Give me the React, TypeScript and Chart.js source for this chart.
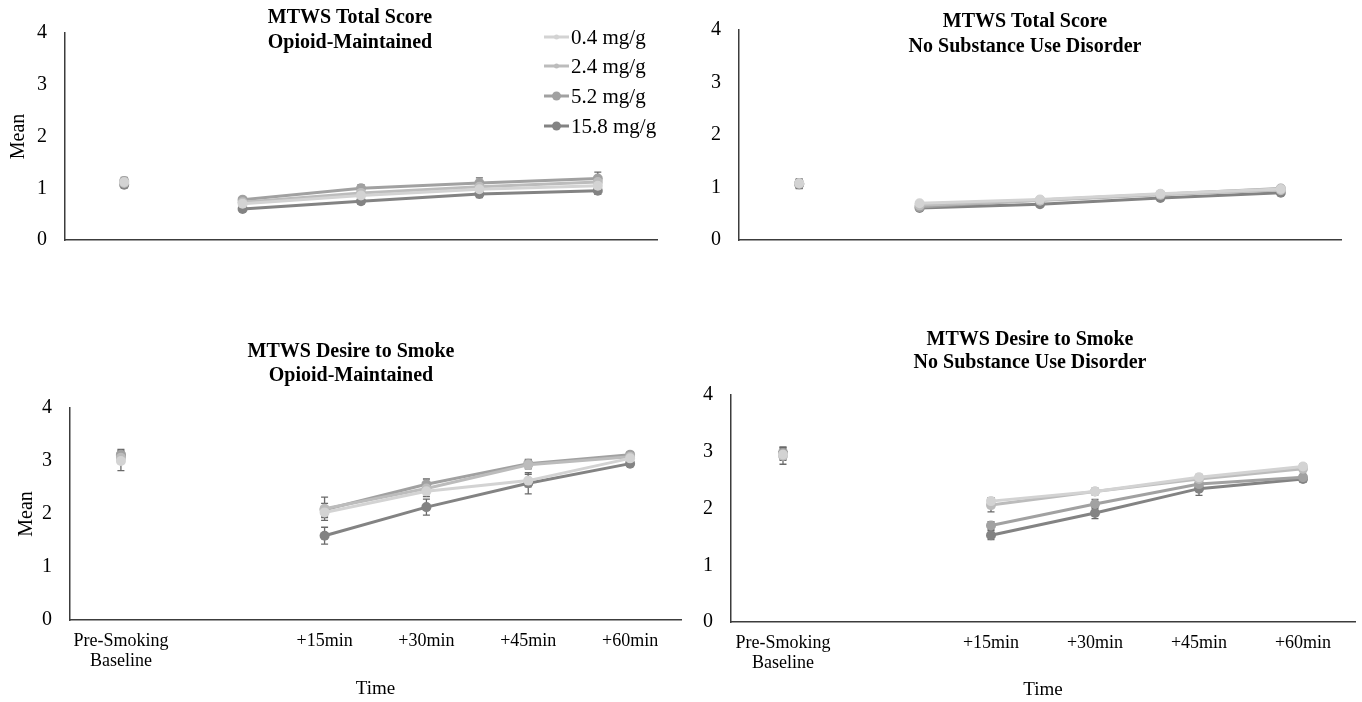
import React, { useEffect, useRef } from 'react';
import { Chart, registerables } from 'chart.js';

Chart.register(...registerables);

const FONT = '"Liberation Serif", "Times New Roman", serif';

// ---------- shared labels ----------
const SERIES_LABELS = ['0.4 mg/g', '2.4 mg/g', '5.2 mg/g', '15.8 mg/g'];
const SERIES_COLORS = ['#d3d3d3', '#bcbcbc', '#a1a1a1', '#838383'];
const TOP_CATEGORIES = ['Pre-Smoking Baseline', '+15min', '+30min', '+45min', '+60min'];
const BOTTOM_CATEGORIES = [['Pre-Smoking', 'Baseline'], '', '+15min', '+30min', '+45min', '+60min'];

// ---------- MTWS Total Score, Opioid-Maintained ----------
const totalOpioid04 = [1.12, 0.7, 0.86, 0.98, 1.05];
const totalOpioid24 = [1.1, 0.73, 0.91, 1.03, 1.12];
const totalOpioid52 = [1.14, 0.78, 1.0, 1.1, 1.19];
const totalOpioid158 = [1.07, 0.6, 0.75, 0.89, 0.95];
const totalOpioidErr04 = [0.06, 0.04, 0.05, 0.06, 0.06];
const totalOpioidErr24 = [0.06, 0.04, 0.05, 0.06, 0.07];
const totalOpioidErr52 = [0.07, 0.05, 0.07, 0.1, 0.12];
const totalOpioidErr158 = [0.06, 0.05, 0.06, 0.07, 0.07];

// ---------- MTWS Total Score, No Substance Use Disorder ----------
const totalNoSud04 = [1.08, 0.7, 0.77, 0.88, 0.97];
const totalNoSud24 = [1.07, 0.66, 0.75, 0.86, 0.95];
const totalNoSud52 = [1.08, 0.63, 0.76, 0.87, 0.98];
const totalNoSud158 = [1.06, 0.61, 0.68, 0.8, 0.9];
const totalNoSudErr04 = [0.08, 0.03, 0.03, 0.04, 0.04];
const totalNoSudErr24 = [0.08, 0.03, 0.03, 0.04, 0.04];
const totalNoSudErr52 = [0.08, 0.03, 0.03, 0.04, 0.04];
const totalNoSudErr158 = [0.08, 0.03, 0.04, 0.04, 0.04];

// ---------- MTWS Desire to Smoke, Opioid-Maintained ----------
const desireOpioid04 = [3.0, null, 2.03, 2.43, 2.63, 3.05];
const desireOpioid24 = [3.06, null, 2.1, 2.48, 2.93, 3.08];
const desireOpioid52 = [3.12, null, 2.08, 2.56, 2.95, 3.12];
const desireOpioid158 = [3.1, null, 1.59, 2.13, 2.58, 2.95];
const desireOpioidErr04 = [0.18, 0, 0.1, 0.1, 0.12, 0.06];
const desireOpioidErr24 = [0.1, 0, 0.22, 0.1, 0.08, 0.06];
const desireOpioidErr52 = [0.1, 0, 0.12, 0.1, 0.08, 0.05];
const desireOpioidErr158 = [0.1, 0, 0.16, 0.15, 0.2, 0.05];

// ---------- MTWS Desire to Smoke, No Substance Use Disorder ----------
const desireNoSud04 = [2.95, null, 2.13, 2.3, 2.55, 2.74];
const desireNoSud24 = [2.93, null, 2.06, 2.3, 2.52, 2.7];
const desireNoSud52 = [2.98, null, 1.7, 2.08, 2.43, 2.55];
const desireNoSud158 = [2.97, null, 1.53, 1.92, 2.35, 2.52];
const desireNoSudErr04 = [0.1, 0, 0.06, 0.05, 0.05, 0.05];
const desireNoSudErr24 = [0.15, 0, 0.12, 0.06, 0.06, 0.05];
const desireNoSudErr52 = [0.1, 0, 0.07, 0.08, 0.08, 0.05];
const desireNoSudErr158 = [0.1, 0, 0.08, 0.1, 0.12, 0.06];

const Y_MIN = 0;
const Y_MAX = 4;
const Y_STEP = 1;

type Box = { left: number; top: number; width: number; height: number };
type Area = { left: number; right: number; top: number; bottom: number };

type PanelProps = {
  box: Box;
  area: Area;
  categories: any[];
  series: (number | null)[][];
  errors: number[][];
  titleLines: string[];
  titleX: number;
  titleY: number[];
  showMean: boolean;
  meanPad: number;
  showTime: boolean;
  timePad: number;
  showXTicks: boolean;
  disconnectBaseline: boolean;
  legend?: { x: number; ys: number[] };
};

const errorBarPlugin = {
  id: 'errorBars',
  beforeDatasetsDraw(chart: any) {
    const ctx = chart.ctx;
    const yScale = chart.scales.y;
    chart.data.datasets.forEach((ds: any, i: number) => {
      const meta = chart.getDatasetMeta(i);
      const errs = ds.errorValues as number[] | undefined;
      if (!errs) return;
      ctx.save();
      ctx.strokeStyle = '#6a6a6a';
      ctx.lineWidth = 1.3;
      meta.data.forEach((pt: any, j: number) => {
        const v = ds.data[j];
        const e = errs[j];
        if (v == null || !e) return;
        const yt = yScale.getPixelForValue(v + e);
        const yb = yScale.getPixelForValue(v - e);
        ctx.beginPath();
        ctx.moveTo(pt.x, yt);
        ctx.lineTo(pt.x, yb);
        ctx.moveTo(pt.x - 3.5, yt);
        ctx.lineTo(pt.x + 3.5, yt);
        ctx.moveTo(pt.x - 3.5, yb);
        ctx.lineTo(pt.x + 3.5, yb);
        ctx.stroke();
      });
      ctx.restore();
    });
  },
};

function Panel(p: PanelProps) {
  const ref = useRef<HTMLCanvasElement | null>(null);

  useEffect(() => {
    if (!ref.current) return;
    const { box, area } = p;

    const textPlugin = {
      id: 'panelText',
      afterDraw(chart: any) {
        const ctx = chart.ctx;
        ctx.save();
        ctx.fillStyle = '#000';
        ctx.textAlign = 'center';
        ctx.textBaseline = 'middle';
        ctx.font = `bold 20px ${FONT}`;
        p.titleLines.forEach((t, i) => ctx.fillText(t, p.titleX, p.titleY[i]));
        if (p.legend) {
          const lg = p.legend;
          chart.data.datasets.forEach((ds: any, i: number) => {
            const y = lg.ys[i];
            ctx.strokeStyle = ds.borderColor;
            ctx.lineWidth = 3;
            ctx.beginPath();
            ctx.moveTo(lg.x, y);
            ctx.lineTo(lg.x + 25, y);
            ctx.stroke();
            ctx.fillStyle = ds.borderColor;
            ctx.beginPath();
            ctx.arc(lg.x + 12.5, y, i < 2 ? 2.5 : 4.5, 0, Math.PI * 2);
            ctx.fill();
            ctx.fillStyle = '#000';
            ctx.textAlign = 'left';
            ctx.font = `21px ${FONT}`;
            ctx.fillText(ds.label, lg.x + 27, y + 1);
          });
        }
        ctx.restore();
      },
    };

    const datasets = p.series.map((vals, i) => ({
      label: SERIES_LABELS[i],
      data: vals,
      errorValues: p.errors[i],
      borderColor: SERIES_COLORS[i],
      backgroundColor: SERIES_COLORS[i],
      pointBackgroundColor: SERIES_COLORS[i],
      pointBorderColor: SERIES_COLORS[i],
      pointBorderWidth: 0,
      pointRadius: 5,
      borderWidth: 3,
      spanGaps: false,
      tension: 0,
      segment: p.disconnectBaseline
        ? { borderColor: (c: any) => (c.p0DataIndex === 0 ? 'rgba(0,0,0,0)' : undefined) }
        : undefined,
    }));

    const chart = new Chart(ref.current, {
      type: 'line',
      data: { labels: p.categories, datasets },
      options: {
        responsive: false,
        maintainAspectRatio: false,
        animation: false,
        layout: { padding: { left: 0, top: area.top, right: box.width - area.right, bottom: 0 } },
        plugins: {
          legend: { display: false },
          tooltip: { enabled: false },
          title: { display: false },
        },
        scales: {
          x: {
            type: 'category',
            offset: true,
            grid: { display: false, drawTicks: false },
            border: { display: true, color: '#3c3c3c', width: 1.5 },
            ticks: {
              display: p.showXTicks,
              padding: 11,
              maxRotation: 0,
              autoSkip: false,
              color: '#000',
              font: { family: FONT, size: 18, lineHeight: 1.12 },
            },
            title: {
              display: p.showTime,
              text: 'Time',
              color: '#000',
              font: { family: FONT, size: 19, lineHeight: 1.2 },
              padding: { top: 0, bottom: p.timePad },
            },
            afterFit: (s: any) => {
              s.height = box.height - area.bottom;
            },
          },
          y: {
            min: Y_MIN,
            max: Y_MAX,
            grid: { display: false, drawTicks: false },
            border: { display: true, color: '#3c3c3c', width: 1.5 },
            ticks: {
              stepSize: Y_STEP,
              padding: 18,
              color: '#000',
              font: { family: FONT, size: 20 },
            },
            title: {
              display: p.showMean,
              text: 'Mean',
              color: '#000',
              font: { family: FONT, size: 20, lineHeight: 1.2 },
              padding: { top: p.meanPad, bottom: 0 },
            },
            afterFit: (s: any) => {
              s.width = area.left;
            },
          },
        },
      } as any,
      plugins: [errorBarPlugin, textPlugin],
    } as any);

    return () => chart.destroy();
  }, []);

  return (
    <canvas
      ref={ref}
      width={p.box.width}
      height={p.box.height}
      style={{
        position: 'absolute',
        left: p.box.left,
        top: p.box.top,
        width: p.box.width,
        height: p.box.height,
      }}
    />
  );
}

export default function App() {
  return (
    <div
      style={{
        position: 'absolute',
        left: 0,
        top: 0,
        width: 1362,
        height: 702,
        background: '#fff',
        overflow: 'hidden',
      }}
    >
      <Panel
        box={{ left: 0, top: 0, width: 680, height: 270 }}
        area={{ left: 65, right: 657, top: 33, bottom: 249 }}
        categories={TOP_CATEGORIES}
        series={[totalOpioid04, totalOpioid24, totalOpioid52, totalOpioid158]}
        errors={[totalOpioidErr04, totalOpioidErr24, totalOpioidErr52, totalOpioidErr158]}
        titleLines={['MTWS Total Score', 'Opioid-Maintained']}
        titleX={350}
        titleY={[18, 43]}
        showMean={true}
        meanPad={7}
        showTime={false}
        timePad={0}
        showXTicks={false}
        disconnectBaseline={true}
        legend={{ x: 544, ys: [37, 66, 96, 126] }}
      />
      <Panel
        box={{ left: 680, top: 0, width: 682, height: 270 }}
        area={{ left: 59, right: 661, top: 26, bottom: 254 }}
        categories={TOP_CATEGORIES}
        series={[totalNoSud04, totalNoSud24, totalNoSud52, totalNoSud158]}
        errors={[totalNoSudErr04, totalNoSudErr24, totalNoSudErr52, totalNoSudErr158]}
        titleLines={['MTWS Total Score', 'No Substance Use Disorder']}
        titleX={345}
        titleY={[22, 47]}
        showMean={false}
        meanPad={0}
        showTime={false}
        timePad={0}
        showXTicks={false}
        disconnectBaseline={true}
      />
      <Panel
        box={{ left: 0, top: 330, width: 690, height: 372 }}
        area={{ left: 70, right: 681, top: 78, bottom: 290 }}
        categories={BOTTOM_CATEGORIES}
        series={[desireOpioid04, desireOpioid24, desireOpioid52, desireOpioid158]}
        errors={[desireOpioidErr04, desireOpioidErr24, desireOpioidErr52, desireOpioidErr158]}
        titleLines={['MTWS Desire to Smoke', 'Opioid-Maintained']}
        titleX={351}
        titleY={[22, 46]}
        showMean={true}
        meanPad={15}
        showTime={true}
        timePad={2}
        showXTicks={true}
        disconnectBaseline={false}
      />
      <Panel
        box={{ left: 690, top: 320, width: 672, height: 382 }}
        area={{ left: 41, right: 665, top: 75, bottom: 302 }}
        categories={BOTTOM_CATEGORIES}
        series={[desireNoSud04, desireNoSud24, desireNoSud52, desireNoSud158]}
        errors={[desireNoSudErr04, desireNoSudErr24, desireNoSudErr52, desireNoSudErr158]}
        titleLines={['MTWS Desire to Smoke', 'No Substance Use Disorder']}
        titleX={340}
        titleY={[20, 43]}
        showMean={false}
        meanPad={0}
        showTime={true}
        timePad={1}
        showXTicks={true}
        disconnectBaseline={false}
      />
    </div>
  );
}
